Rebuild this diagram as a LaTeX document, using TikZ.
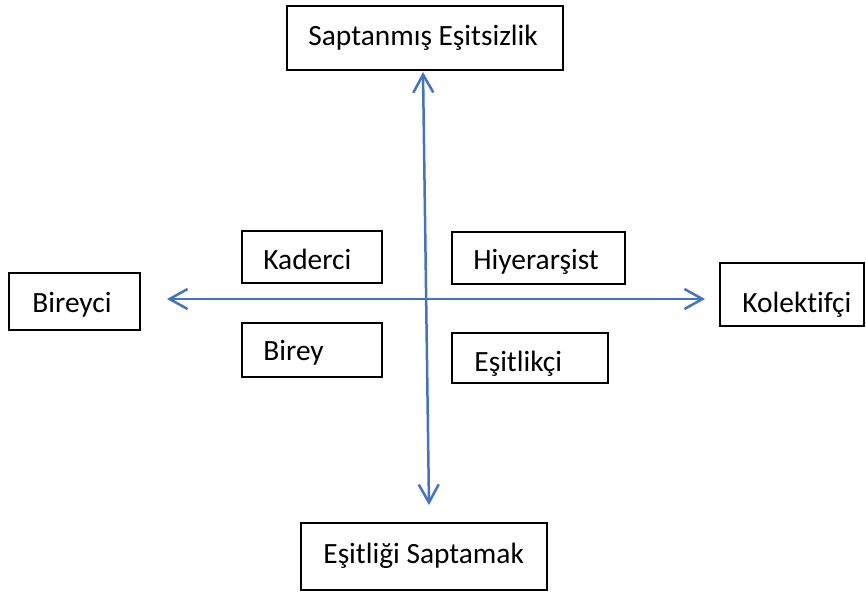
\documentclass[tikz,border=0pt]{standalone}
\usepackage{fontspec}
\setmainfont[Ligatures={NoCommon}]{Carlito}
\usetikzlibrary{arrows.meta}
\definecolor{axisblue}{RGB}{68,114,196}
\begin{document}
\begin{tikzpicture}[x=0.5pt,y=-0.5pt,
  box/.style={draw=black,line width=1pt,inner sep=0pt},
  lbl/.style={anchor=base west,inner sep=0pt,font=\fontsize{14.7}{17}\selectfont},
  axis/.style={draw=axisblue,line width=1.25pt,
    {Straight Barb[length=9pt,width=10pt]}-{Straight Barb[length=9pt,width=10pt]}}]
\useasboundingbox (0,0) rectangle (866,594);
% boxes
\node[box,minimum width=138pt,minimum height=32pt] (top) at (425,38) {};
\node[box,minimum width=65.5pt,minimum height=28.5pt] (left) at (74.5,301.5) {};
\node[box,minimum width=72pt,minimum height=31.5pt] (right) at (792,294.5) {};
\node[box,minimum width=70pt,minimum height=26pt] (kad) at (312,257) {};
\node[box,minimum width=86.5pt,minimum height=26pt] (hiy) at (538.5,258) {};
\node[box,minimum width=70pt,minimum height=27pt] (bir) at (312,350) {};
\node[box,minimum width=78pt,minimum height=25pt] (esi) at (530,358) {};
\node[box,minimum width=123pt,minimum height=33.5pt] (bot) at (424,556.5) {};
% labels
\node[lbl] (ttop) at (308,45) {Saptanmış Eşitsizlik};
\node[lbl] (tleft) at (32,312) {Bireyci};
\node[lbl] (tright) at (742,312) {Kolektifçi};
\node[lbl] (tkad) at (263,269) {Kaderci};
\node[lbl] (thiy) at (473,269) {Hiyerarşist};
\node[lbl] (tbir) at (263,360) {Birey};
\node[lbl] (tesi) at (474,371) {Eşitlikçi};
\node[lbl] (tbot) at (323,563) {Eşitliği Saptamak};
% axes
\coordinate (hl) at (167,299);
\coordinate (hr) at (705,299);
\coordinate (vt) at (423,72);
\coordinate (vb) at (429,505);
\draw[axis] (hl) -- (hr);
\draw[axis] (vt) -- (vb);
\end{tikzpicture}
\end{document}
